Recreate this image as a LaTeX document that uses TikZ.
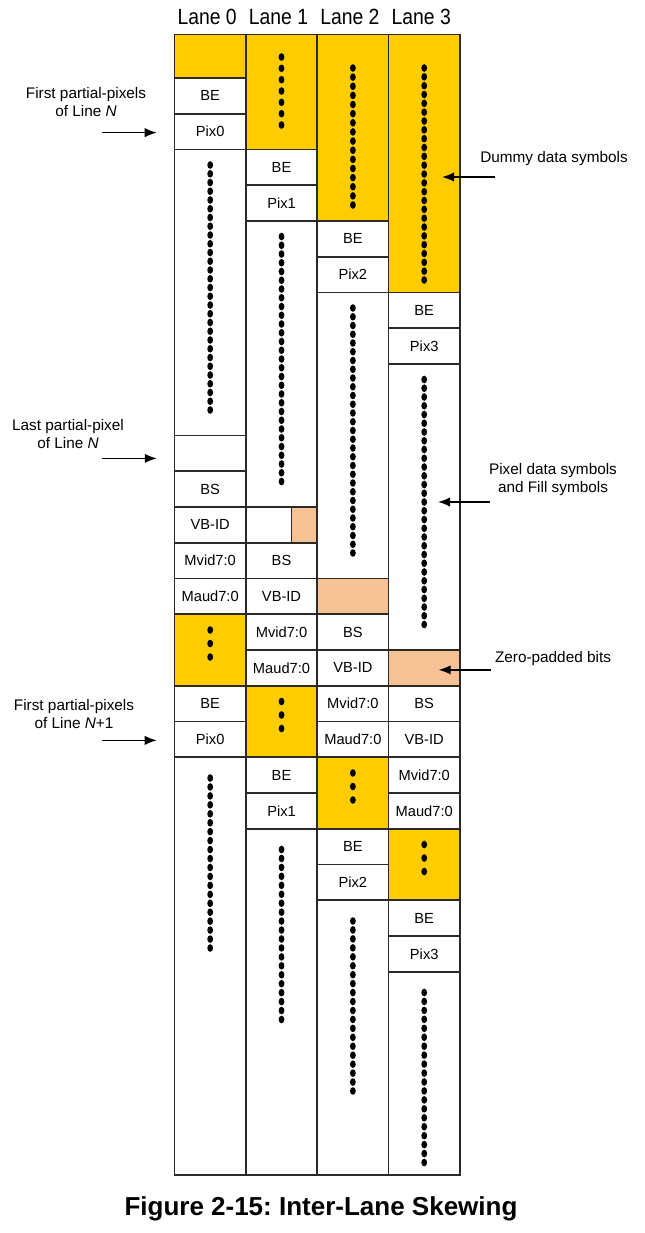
\documentclass[tikz,border=0pt]{standalone}
\usepackage{fontspec}
\setmainfont{Liberation Sans}
\newfontfamily\lanefont[FakeStretch=0.88]{Liberation Sans}
\usetikzlibrary{arrows.meta,calc}
\definecolor{dummyyellow}{HTML}{FFCC00}
\definecolor{zeropad}{HTML}{F6C194}
\definecolor{gridline}{HTML}{2A2A2A}

% one column of dots: x, first y, last y, number of gaps
\newcommand{\dotrun}[4]{%
  \foreach \d in {0,...,#4}{\fill ({#1},{(#2)+((#3)-(#2))*\d/#4}) ellipse (2.9 and 3.8);}}

\tikzset{
  cell/.style={draw=gridline, line width=1.15pt, fill=white, minimum width=53.51pt,
    minimum height=26.81pt, inner sep=0pt, font=\fontsize{11}{13}\selectfont},
  padcell/.style={cell, fill=zeropad},
  dummy/.style={draw=gridline, line width=1.15pt, fill=dummyyellow},
  lane/.style={draw=gridline, line width=1.15pt},
  note/.style={align=center, font=\fontsize{11.5}{13.5}\selectfont},
  arr/.style={->, line width=1.1pt}
}

\begin{document}
\frenchspacing
\begin{tikzpicture}[x=0.75pt, y=-0.75pt, >={Latex[length=9pt,width=7pt]}]
    \useasboundingbox (0,0) rectangle (645,1233);

    % Lanes
    \foreach \i/\pixname in {0/Pix0,1/Pix1,2/Pix2,3/Pix3}{
      \pgfmathsetmacro\xl{174.5+71.35*\i}
      \pgfmathsetmacro\xr{\xl+71.35}
      \pgfmathsetmacro\cx{\xl+35.675}
      \pgfmathsetmacro\ro{78+71.5*\i}
      \node[font=\lanefont\fontsize{16.5}{18}\selectfont] (head\i) at (\cx-3,17) {Lane \i};
      \draw[dummy] (\xl,34.5) rectangle (\xr,\ro);
      \node[cell] (beA\i) at (\cx,\ro+17.875) {BE};
      \node[cell] (pixA\i) at (\cx,\ro+53.625) {\pixname};
      \dotrun{\cx}{\ro+87}{\ro+332}{28}
      \node[cell] (bs\i) at (\cx,\ro+411.125) {BS};
      \node[cell] (vbid\i) at (\cx,\ro+446.875) {VB-ID};
      \node[cell] (mvid\i) at (\cx,\ro+482.625) {Mvid7:0};
      \node[cell] (maud\i) at (\cx,\ro+518.375) {Maud7:0};
      \draw[dummy] (\xl,\ro+536.25) rectangle (\xr,\ro+607.75);
      \dotrun{\cx}{\ro+552}{\ro+579}{2}
      \node[cell] (beB\i) at (\cx,\ro+625.625) {BE};
      \node[cell] (pixB\i) at (\cx,\ro+661.375) {\pixname};
      \dotrun{\cx}{\ro+700}{\ro+870}{19}
      \draw[lane] (\xl,34.5) rectangle (\xr,1175);
    }

    % Dummy symbols before the first BE
    \dotrun{281.5}{57}{125}{6}
    \dotrun{352.9}{68}{205}{15}
    \dotrun{424.2}{68}{280}{24}

    % Last partial-pixel and zero-padded bits
    \node[cell] (spec0) at (210.2,453.375) {};
    \node[cell] (spec1) at (281.5,524.875) {};
    \draw[dummy, fill=zeropad] (291.5,507) rectangle (317.2,542.75);
    \node[padcell] (spec2) at (352.9,596.375) {};
    \node[padcell] (spec3) at (424.2,667.875) {};

    % Left notes
    \node[note] (firstN) at (86,102) {First partial-pixels\\of Line \textit{N}};
    \node[note] (lastN) at (68,434) {Last partial-pixel\\of Line \textit{N}};
    \node[note] (firstN1) at (74,714) {First partial-pixels\\of Line \textit{N}+1};
    \draw[arr] ($(pixA0.west)+(-72,1)$) -- ($(pixA0.west)+(-17,1)$);
    \draw[arr] ($(spec0.west)+(-72,5)$) -- ($(spec0.west)+(-17,5)$);
    \draw[arr] ($(pixB0.west)+(-72,1)$) -- ($(pixB0.west)+(-17,1)$);

    % Right notes
    \node[note] (dummyNote) at (554,159) {Dummy data symbols};
    \node[note] (pixelNote) at (553,480) {Pixel data symbols\\and Fill symbols};
    \node[note] (padNote) at (553,659) {Zero-padded bits};
    \coordinate (dummyTail) at (495,177);
    \coordinate (dummyTip) at (442,177);
    \coordinate (pixelTail) at (490,502);
    \coordinate (pixelTip) at (438,502);
    \draw[arr] (dummyTail) -- (dummyTip);
    \draw[arr] (pixelTail) -- (pixelTip);
    \draw[arr] ($(spec3.east)+(30,2)$) -- ($(spec3.east)+(-22,2)$);

    % Caption
    \node[font=\bfseries\fontsize{19.5}{22}\selectfont] (caption) at (321,1209) {Figure 2-15: Inter-Lane Skewing};
\end{tikzpicture}
\end{document}
